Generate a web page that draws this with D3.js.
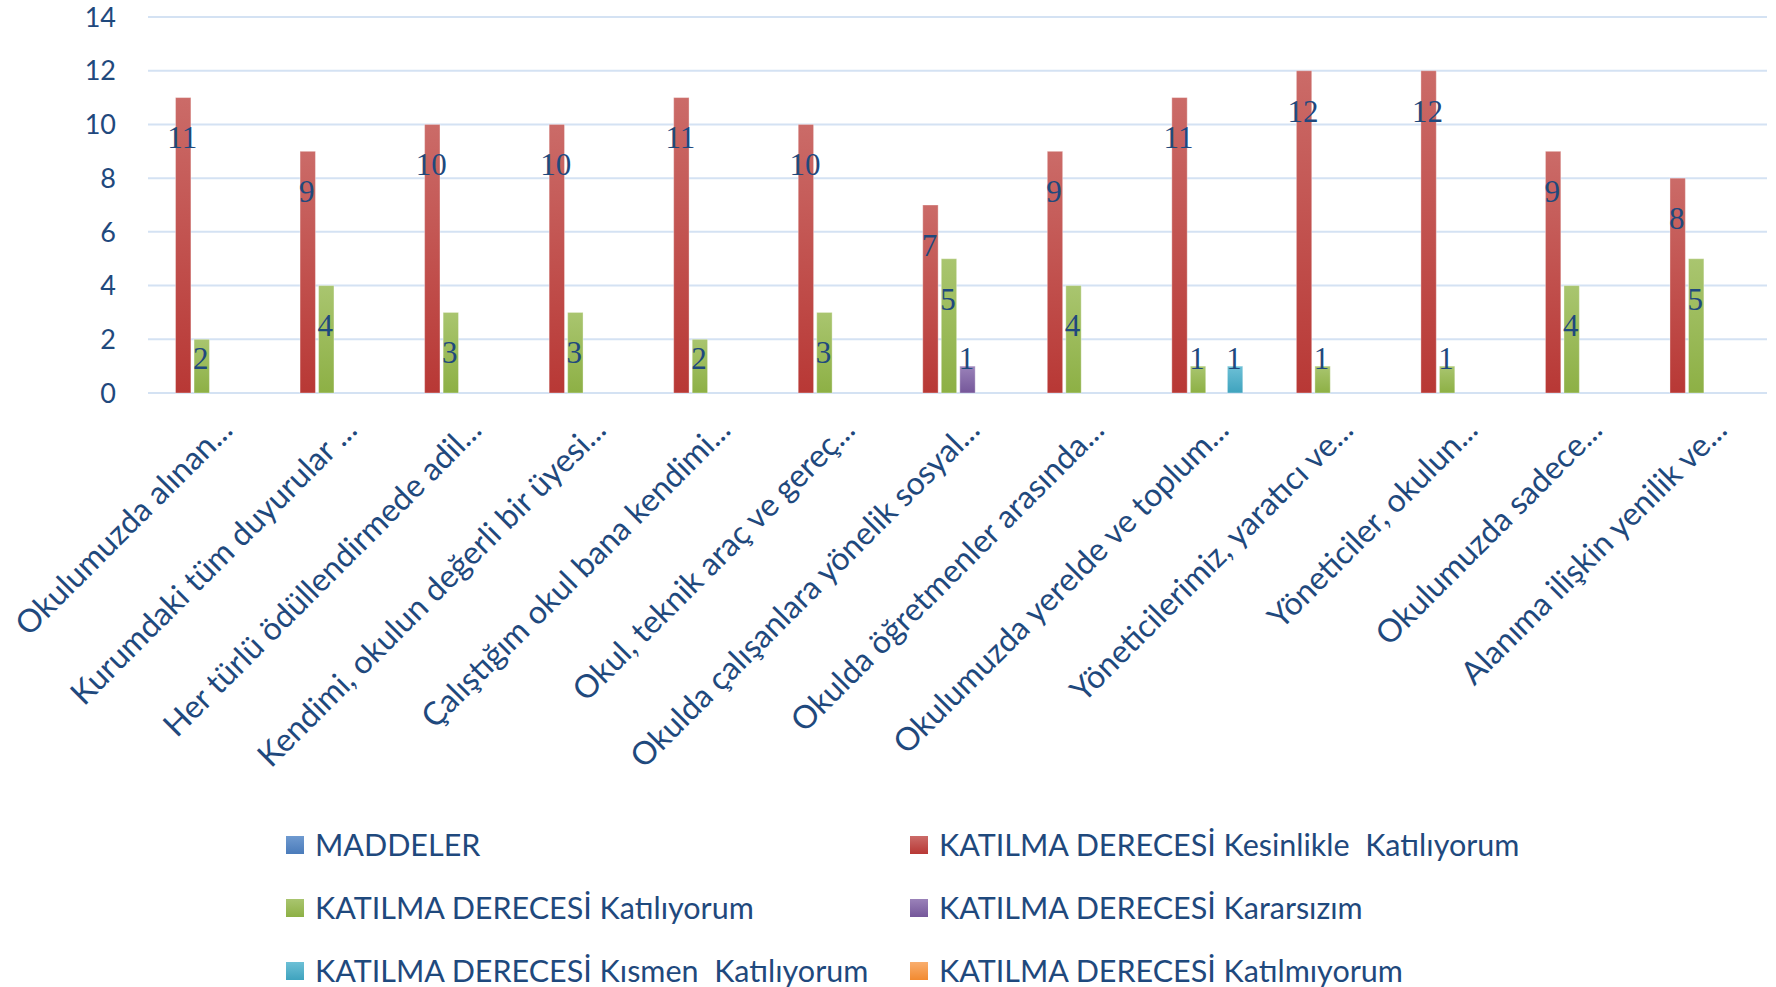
<!DOCTYPE html>
<html>
<head>
<meta charset="utf-8">
<script src="https://cdn.jsdelivr.net/npm/d3@7"></script>
<style>
  html, body { margin: 0; padding: 0; background: #fff; }
  text { white-space: pre; }
</style>
</head>
<body>
<div id="chart"></div>
<script>
var categories = [
  "Okulumuzda alınan...",
  "Kurumdaki tüm duyurular ...",
  "Her türlü ödüllendirmede adil...",
  "Kendimi, okulun değerli bir üyesi...",
  "Çalıştığım okul bana kendimi...",
  "Okul, teknik araç ve gereç...",
  "Okulda çalışanlara yönelik sosyal...",
  "Okulda öğretmenler arasında...",
  "Okulumuzda yerelde ve toplum...",
  "Yöneticilerimiz, yaratıcı ve...",
  "Yöneticiler, okulun...",
  "Okulumuzda sadece...",
  "Alanıma ilişkin yenilik ve..."
];

var seriesNames = [
  "MADDELER",
  "KATILMA DERECESİ Kesinlikle  Katılıyorum",
  "KATILMA DERECESİ Katılıyorum",
  "KATILMA DERECESİ Kararsızım",
  "KATILMA DERECESİ Kısmen  Katılıyorum",
  "KATILMA DERECESİ Katılmıyorum"
];

var maddeler     = [0, 0, 0, 0, 0, 0, 0, 0, 0, 0, 0, 0, 0];
var kesinlikle   = [11, 9, 10, 10, 11, 10, 7, 9, 11, 12, 12, 9, 8];
var katiliyorum  = [2, 4, 3, 3, 2, 3, 5, 4, 1, 1, 1, 4, 5];
var kararsizim   = [0, 0, 0, 0, 0, 0, 1, 0, 0, 0, 0, 0, 0];
var kismen       = [0, 0, 0, 0, 0, 0, 0, 0, 1, 0, 0, 0, 0];
var katilmiyorum = [0, 0, 0, 0, 0, 0, 0, 0, 0, 0, 0, 0, 0];

var yTicks = [0, 2, 4, 6, 8, 10, 12, 14];

var seriesValues = [maddeler, kesinlikle, katiliyorum, kararsizim, kismen, katilmiyorum];
var colors = [
  ["#6F9AD0", "#4A7BBA"],
  ["#CB6B68", "#B83835"],
  ["#A9C56F", "#8DB045"],
  ["#9A82B9", "#75579A"],
  ["#6DC0D6", "#3FA3BE"],
  ["#F9AE6E", "#F28A30"]
];

var W = 1776, H = 987;
var TEXT = "#1F497D";

var svg = d3.select("#chart").append("svg")
  .attr("width", W)
  .attr("height", H);

var defs = svg.append("defs");
colors.forEach(function(c, i) {
  var g = defs.append("linearGradient")
    .attr("id", "grad" + i)
    .attr("x1", 0).attr("y1", 0).attr("x2", 0).attr("y2", 1);
  g.append("stop").attr("offset", "0%").attr("stop-color", c[0]);
  g.append("stop").attr("offset", "100%").attr("stop-color", c[1]);
});

var x0 = d3.scaleBand()
  .domain(categories)
  .range([148, 1767]);

var x1 = d3.scaleBand()
  .domain(d3.range(seriesNames.length))
  .range([9, 117])
  .paddingInner(0.17);

var y = d3.scaleLinear()
  .domain([0, 14])
  .range([393, 17]);

// gridlines
svg.append("g").selectAll("line")
  .data(yTicks)
  .enter().append("line")
  .attr("x1", 148)
  .attr("x2", 1767)
  .attr("y1", function(d) { return y(d); })
  .attr("y2", function(d) { return y(d); })
  .style("stroke", "#D4E2F3")
  .style("stroke-width", 2);

// y axis labels
svg.append("g").selectAll("text")
  .data(yTicks)
  .enter().append("text")
  .attr("x", 116)
  .attr("y", function(d) { return y(d); })
  .attr("dy", "0.36em")
  .attr("text-anchor", "end")
  .style("font-family", "Lato, 'Open Sans', sans-serif")
  .style("font-size", "27px")
  .style("fill", TEXT)
  .text(function(d) { return d; });

// bars
var bars = [];
seriesValues.forEach(function(vals, s) {
  vals.forEach(function(v, i) {
    if (v > 0) bars.push({ s: s, cat: categories[i], v: v });
  });
});

svg.append("g").selectAll("rect")
  .data(bars)
  .enter().append("rect")
  .attr("x", function(d) { return x0(d.cat) + x1(d.s); })
  .attr("y", function(d) { return y(d.v); })
  .attr("width", x1.bandwidth())
  .attr("height", function(d) { return y(0) - y(d.v); })
  .style("fill", function(d) { return "url(#grad" + d.s + ")"; })
  .style("stroke", "rgba(255,255,255,0.35)")
  .style("stroke-width", 1);

// data labels
svg.append("g").selectAll("text")
  .data(bars)
  .enter().append("text")
  .attr("x", function(d) { return x0(d.cat) + x1(d.s) + x1.bandwidth() / 2 - 1; })
  .attr("y", function(d) { return Math.min(y(d.v) + 40, y(0) - 35); })
  .attr("dy", "0.35em")
  .attr("text-anchor", "middle")
  .style("font-family", "'Liberation Serif', 'DejaVu Serif', serif")
  .style("font-size", "31px")
  .style("fill", TEXT)
  .text(function(d) { return d.v; });

// category labels
svg.append("g").selectAll("text")
  .data(categories)
  .enter().append("text")
  .attr("transform", function(d) {
    var cx = x0(d) + x0.bandwidth() / 2 + 24;
    return "translate(" + cx + ",432) rotate(-45)";
  })
  .attr("text-anchor", "end")
  .style("font-family", "Lato, 'Open Sans', sans-serif")
  .style("font-size", "32px")
  .style("fill", TEXT)
  .text(function(d) { return d; });

// legend
var legendCols = [286, 910];
var legendRows = [845, 908, 971];

var legend = svg.append("g").selectAll("g")
  .data(seriesNames)
  .enter().append("g")
  .attr("transform", function(d, i) {
    return "translate(" + legendCols[i % 2] + "," + legendRows[Math.floor(i / 2)] + ")";
  });

legend.append("rect")
  .attr("x", 0)
  .attr("y", -9)
  .attr("width", 18)
  .attr("height", 18)
  .style("fill", function(d, i) { return "url(#grad" + i + ")"; });

legend.append("text")
  .attr("x", 29)
  .attr("y", 0)
  .attr("dy", "0.36em")
  .style("font-family", "Lato, 'Open Sans', sans-serif")
  .style("font-size", "30.5px")
  .style("fill", TEXT)
  .text(function(d) { return d; });
</script>
</body>
</html>
